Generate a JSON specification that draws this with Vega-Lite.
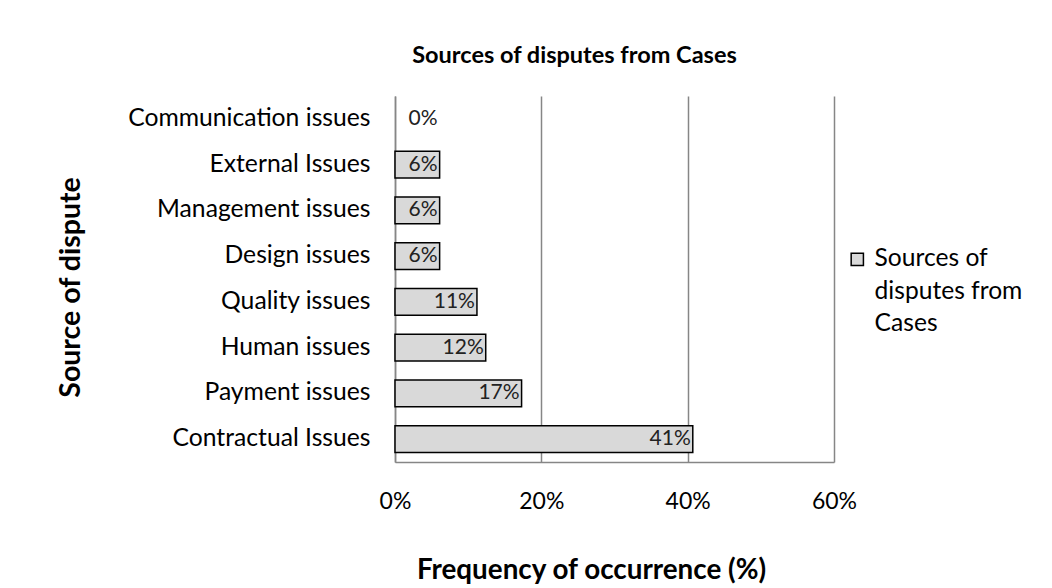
{
  "$schema": "https://vega.github.io/schema/vega-lite/v6.json",
  "autosize": "none",
  "width": 439,
  "height": 366,
  "padding": {"left": 395, "top": 96, "right": 218, "bottom": 126},
  "background": "white",
  "config": {
    "font": "Lato",
    "view": {"stroke": null},
    "style": {"guide-label": {"lineHeight": 32.5}}
  },
  "title": {
    "text": "Sources of disputes from Cases",
    "fontSize": 23.5,
    "fontWeight": "bold",
    "color": "#000000",
    "anchor": "middle",
    "dx": -40,
    "offset": 29
  },
  "data": {
    "values": [
      {"source": "Communication issues", "value": 0},
      {"source": "External Issues", "value": 0.061},
      {"source": "Management issues", "value": 0.061},
      {"source": "Design issues", "value": 0.061},
      {"source": "Quality issues ", "value": 0.112},
      {"source": "Human issues ", "value": 0.124},
      {"source": "Payment issues", "value": 0.173},
      {"source": "Contractual Issues", "value": 0.407}
    ]
  },
  "encoding": {
    "y": {
      "field": "source",
      "type": "nominal",
      "sort": null,
      "scale": {"paddingInner": 0.41, "paddingOuter": 0.205},
      "axis": {
        "title": "Source of dispute",
        "titleFontSize": 28.5,
        "titleFontWeight": "bold",
        "titleColor": "#000000",
        "titleX": -325,
        "titleY": 191,
        "titleAngle": -90,
        "titleAlign": "center",
        "titleBaseline": "middle",
        "labelFontSize": 24.7,
        "labelColor": "#000000",
        "labelPadding": 25,
        "labelLimit": 400,
        "ticks": false,
        "domainColor": "#868686",
        "domainWidth": 1.5
      }
    }
  },
  "layer": [
    {
      "mark": {"type": "bar", "stroke": "#000000", "strokeWidth": 1.5},
      "encoding": {
        "x": {
          "field": "value",
          "type": "quantitative",
          "scale": {"domain": [0, 0.6], "nice": false},
          "axis": {
            "values": [0, 0.2, 0.4, 0.6],
            "format": ".0%",
            "grid": true,
            "gridColor": "#868686",
            "gridWidth": 1.5,
            "ticks": false,
            "labelFlush": false,
            "labelPadding": 28,
            "labelFontSize": 23,
            "labelColor": "#000000",
            "domainColor": "#868686",
            "domainWidth": 1.5,
            "title": "Frequency of occurrence (%)",
            "titleFontSize": 27.8,
            "titleFontWeight": "bold",
            "titleColor": "#000000",
            "titleX": 196,
            "titleY": 108,
            "titleAlign": "center",
            "titleBaseline": "middle"
          }
        },
        "strokeOpacity": {"condition": {"test": "datum.value === 0", "value": 0}, "value": 1},
        "color": {
          "datum": "Sources of disputes from Cases",
          "scale": {"range": ["#d9d9d9"]},
          "legend": {
            "title": null,
            "orient": "none",
            "legendX": 450,
            "legendY": 151,
            "symbolType": "square",
            "symbolSize": 150,
            "symbolStrokeColor": "#000000",
            "symbolStrokeWidth": 1.5,
            "labelFontSize": 24.6,
            "labelColor": "#000000",
            "labelLimit": 300,
            "labelOffset": 5,
            "labelExpr": "['Sources of', 'disputes from', 'Cases']"
          }
        }
      }
    },
    {
      "transform": [{"calculate": "max(datum.value, 0.061)", "as": "labelX"}],
      "mark": {"type": "text", "align": "right", "baseline": "middle", "dx": -2, "fontSize": 21, "color": "#222222"},
      "encoding": {
        "x": {"field": "labelX", "type": "quantitative"},
        "text": {"field": "value", "type": "quantitative", "format": ".0%"}
      }
    }
  ]
}
